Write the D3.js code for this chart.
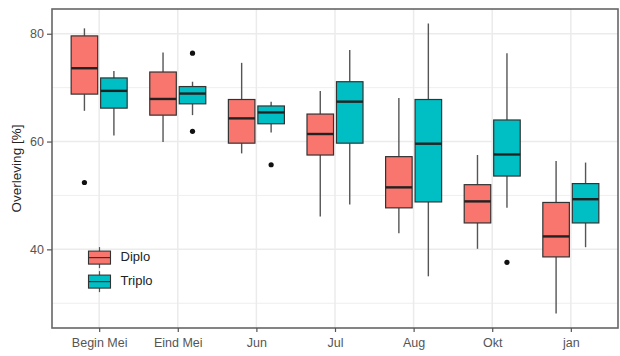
<!DOCTYPE html>
<html><head><meta charset="utf-8">
<script src="https://cdn.jsdelivr.net/npm/d3@7"></script>
<style>body{margin:0;background:#fff}svg{display:block;font-family:"Liberation Sans",Arial,sans-serif}</style>
</head><body><div id="chart"></div>
<script>
const categories = ["Begin Mei","Eind Mei","Jun","Jul","Aug","Okt","jan"];
const groups = ["Diplo","Triplo"];
const colors = ["#F8766D","#00BFC4"];
// [lowerWhisker, q1, median, q3, upperWhisker] per category
const diplo = [
  [65.7,68.8,73.6,79.6,81.0],
  [59.9,64.9,67.9,72.9,76.5],
  [57.8,59.7,64.3,67.8,74.6],
  [46.1,57.5,61.4,65.1,69.4],
  [43.0,47.7,51.5,57.2,68.1],
  [40.1,44.9,48.9,52.0,57.5],
  [28.1,38.6,42.4,48.7,56.4]
];
const triplo = [
  [61.1,66.2,69.4,71.8,73.1],
  [64.9,67.0,68.9,70.2,71.1],
  [61.7,63.3,65.4,66.6,67.4],
  [48.3,59.7,67.4,71.1,77.0],
  [35.0,48.8,59.6,67.8,81.9],
  [47.7,53.6,57.6,64.0,76.4],
  [40.4,44.9,49.3,52.2,56.1]
];
// outliers: [categoryIndex, value]
const diploOutliers = [[0,52.4]];
const triploOutliers = [[1,76.4],[1,61.9],[2,55.7],[5,37.6]];
const yTicks = [40,60,80];
const yMinor = [30,50,70];
const yTitle = "Overleving [%]";

const W=620,H=356;
const m={l:52,r:2,t:9,b:28};
const svg=d3.select("#chart").append("svg").attr("width",W).attr("height",H);
const allVals=[...diplo.flat(),...triplo.flat(),...diploOutliers.map(d=>d[1]),...triploOutliers.map(d=>d[1])];
const lo=d3.min(allVals),hi=d3.max(allVals),pad=(hi-lo)*0.05;
const y=d3.scaleLinear().domain([lo-pad,hi+pad]).range([H-m.b,m.t]);
const n=categories.length;
const xc=d3.scaleLinear().domain([0.4,n+0.6]).range([m.l,W-m.r]);
const unit=xc(2)-xc(1);
const x=c=>xc(categories.indexOf(c)+1);

const g=svg.append("g");
// grid
g.selectAll(".ymin").data(yMinor).join("line").attr("x1",m.l).attr("x2",W-m.r)
 .attr("y1",d=>y(d)).attr("y2",d=>y(d)).attr("stroke","#EBEBEB").attr("stroke-width",0.8);
g.selectAll(".ymaj").data(yTicks).join("line").attr("x1",m.l).attr("x2",W-m.r)
 .attr("y1",d=>y(d)).attr("y2",d=>y(d)).attr("stroke","#EBEBEB").attr("stroke-width",1.5);
g.selectAll(".xmaj").data(categories).join("line").attr("x1",d=>x(d)).attr("x2",d=>x(d))
 .attr("y1",m.t).attr("y2",H-m.b).attr("stroke","#EBEBEB").attr("stroke-width",1.5);

const boxW=unit*0.375*0.9;
const series=[diplo,triplo];
const outs=[diploOutliers,triploOutliers];
series.forEach((s,gi)=>{
  const off=(gi===0?-1:1)*unit*0.1875;
  const bg=g.append("g");
  s.forEach((d,i)=>{
    const cx=x(categories[i])+off;
    bg.append("line").attr("x1",cx).attr("x2",cx).attr("y1",y(d[4])).attr("y2",y(d[3]))
      .attr("stroke","#555").attr("stroke-width",1.4);
    bg.append("line").attr("x1",cx).attr("x2",cx).attr("y1",y(d[1])).attr("y2",y(d[0]))
      .attr("stroke","#555").attr("stroke-width",1.4);
    bg.append("rect").attr("x",cx-boxW/2).attr("width",boxW).attr("y",y(d[3])).attr("height",y(d[1])-y(d[3]))
      .attr("fill",colors[gi]).attr("stroke","#333").attr("stroke-width",1.2);
    bg.append("line").attr("x1",cx-boxW/2).attr("x2",cx+boxW/2).attr("y1",y(d[2])).attr("y2",y(d[2]))
      .attr("stroke","#222").attr("stroke-width",2.4);
  });
  outs[gi].forEach(o=>{
    bg.append("circle").attr("cx",x(categories[o[0]])+off).attr("cy",y(o[1])).attr("r",2.6).attr("fill","#111");
  });
});

// panel border
svg.append("rect").attr("x",m.l).attr("y",m.t).attr("width",W-m.l-m.r).attr("height",H-m.t-m.b)
 .attr("fill","none").attr("stroke","#666").attr("stroke-width",1.6);

// axes
const ya=svg.append("g").attr("transform",`translate(${m.l},0)`)
 .call(d3.axisLeft(y).tickValues(yTicks).tickSize(5).tickPadding(3));
ya.select(".domain").remove();
ya.selectAll("line").attr("stroke","#555").attr("stroke-width",1.2);
ya.selectAll("text").attr("fill","#555").attr("font-size",12.5).attr("font-family","Liberation Sans, Arial");
const xa=svg.append("g").attr("transform",`translate(0,${H-m.b})`)
 .call(d3.axisBottom(xc).tickValues(d3.range(1,n+1)).tickFormat(i=>categories[i-1]).tickSize(4).tickPadding(6));
xa.select(".domain").remove();
xa.selectAll("line").attr("stroke","#555").attr("stroke-width",1.2);
xa.selectAll("text").attr("fill","#555").attr("font-size",12.5).attr("font-family","Liberation Sans, Arial");

svg.append("text").attr("transform",`translate(17,${(m.t+H-m.b)/2}) rotate(-90)`)
 .attr("text-anchor","middle").attr("dominant-baseline","middle").attr("font-size",13.5).attr("fill","#222").text(yTitle);

// legend
const lg=svg.append("g");
groups.forEach((name,i)=>{
  const cy=257.6+i*24, cx=99.5, kw=22, kh=13;
  lg.append("line").attr("x1",cx).attr("x2",cx).attr("y1",cy-10.5).attr("y2",cy+10.5).attr("stroke","#555").attr("stroke-width",1.2);
  lg.append("rect").attr("x",cx-kw/2).attr("y",cy-kh/2).attr("width",kw).attr("height",kh)
    .attr("fill",colors[i]).attr("stroke","#333").attr("stroke-width",1.1);
  lg.append("line").attr("x1",cx-kw/2).attr("x2",cx+kw/2).attr("y1",cy).attr("y2",cy).attr("stroke","#333").attr("stroke-width",1.2);
  lg.append("text").attr("x",120.5).attr("y",cy).attr("dominant-baseline","middle").attr("font-size",13)
    .attr("fill","#222").text(name);
});
</script></body></html>
